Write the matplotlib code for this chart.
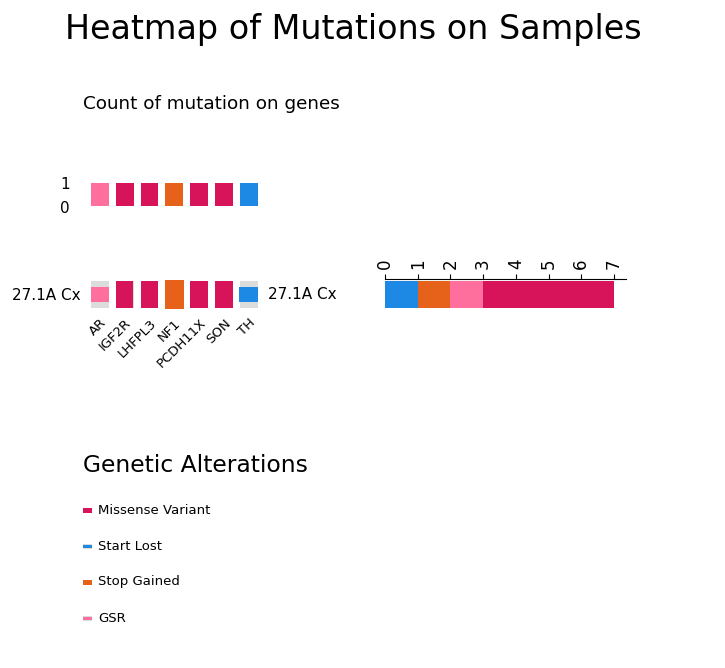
import matplotlib
matplotlib.use("Agg")
import matplotlib.pyplot as plt
from matplotlib.patches import Rectangle

# data
sample = "27.1A Cx"
genes = ["AR", "IGF2R", "LHFPL3", "NF1", "PCDH11X", "SON", "TH"]
gene_alt = ["GSR", "Missense Variant", "Missense Variant", "Stop Gained",
            "Missense Variant", "Missense Variant", "Start Lost"]
gene_counts = [1, 1, 1, 1, 1, 1, 1]
stack_order = ["Start Lost", "Stop Gained", "GSR", "Missense Variant"]
stack_counts = [1, 1, 1, 4]
legend_order = ["Missense Variant", "Start Lost", "Stop Gained", "GSR"]

colors = {
    "Missense Variant": "#d7145a",
    "Start Lost": "#1e88e5",
    "Stop Gained": "#e6621a",
    "GSR": "#ff6f9e",
}
bg_gray = "#dcdcdc"
# cell shapes: (width, height) as fraction of a cell
shapes = {
    "Missense Variant": (0.70, 1.0),
    "Stop Gained": (0.78, 1.04),
    "Start Lost": (0.76, 0.56),
    "GSR": (0.76, 0.56),
}

W, H = 725, 668
fig = plt.figure(figsize=(W / 100, H / 100), dpi=100)


def fx(px):
    return px / W


def fy(py):
    return 1 - py / H


fig.text(0.488, fy(29), "Heatmap of Mutations on Samples", ha="center", va="center", fontsize=24)
fig.text(fx(83), fy(104), "Count of mutation on genes", ha="left", va="center", fontsize=13.2)

# top bar annotation
hm_left, hm_right = 87.6, 261.0
ax_top = fig.add_axes([fx(hm_left), fy(207), fx(hm_right - hm_left), (207 - 183) / H])
x = list(range(len(genes)))
ax_top.bar(x, gene_counts, width=0.72, color=[colors[a] for a in gene_alt])
ax_top.set_xlim(-0.5, len(genes) - 0.5)
ax_top.set_ylim(0, 1)
ax_top.set_yticks([-0.05, 1])
ax_top.set_yticklabels(["0", "1"], fontsize=11)
ax_top.tick_params(axis="y", length=0, pad=13)
ax_top.set_xticks([])
for s in ax_top.spines.values():
    s.set_visible(False)

# main oncoprint
ax_hm = fig.add_axes([fx(hm_left), fy(308), fx(hm_right - hm_left), (308 - 281) / H])
ax_hm.set_xlim(-0.5, len(genes) - 0.5)
ax_hm.set_ylim(0, 1)
for i, alt in enumerate(gene_alt):
    ax_hm.add_patch(Rectangle((i - 0.36, 0.0), 0.72, 1.0, color=bg_gray, lw=0))
    w, h = shapes[alt]
    ax_hm.add_patch(Rectangle((i - w / 2, 0.5 - h / 2), w, h, color=colors[alt], lw=0, clip_on=False))
ax_hm.set_yticks([0.5])
ax_hm.set_yticklabels([sample], fontsize=11)
ax_hm.tick_params(axis="y", length=0, pad=5)
ax_hm.set_xticks(x)
ax_hm.set_xticklabels(genes, rotation=45, ha="right", rotation_mode="anchor", fontsize=9.5)
ax_hm.tick_params(axis="x", length=0, pad=6)
for s in ax_hm.spines.values():
    s.set_visible(False)
fig.text(fx(268), fy(294.5), sample, ha="left", va="center", fontsize=11)

# right stacked bar annotation
ax_r = fig.add_axes([fx(385), fy(308), fx(626 - 385), (308 - 279) / H])
left = 0
for alt, c in zip(stack_order, stack_counts):
    ax_r.barh(0, c, left=left, height=1.0, color=colors[alt], align="edge")
    left += c
ax_r.set_xlim(0, 7.37)
ax_r.set_ylim(0, 1.07)
ax_r.xaxis.set_ticks_position("top")
ax_r.set_xticks(range(8))
ax_r.set_xticklabels([str(v) for v in range(8)], rotation=90, fontsize=12)
ax_r.set_yticks([])
for k in ["bottom", "left", "right"]:
    ax_r.spines[k].set_visible(False)

# legend
fig.text(fx(83), fy(466), "Genetic Alterations", ha="left", va="center", fontsize=16.8)
for j, alt in enumerate(legend_order):
    yc = 510 + 36 * j
    w, h = shapes[alt]
    if h < 1:
        fig.add_artist(Rectangle((fx(83), fy(yc + 2.5)), fx(9), 5 / H, color=bg_gray, lw=0,
                                 transform=fig.transFigure))
        fig.add_artist(Rectangle((fx(83), fy(yc + 1.5)), fx(9), 3 / H, color=colors[alt], lw=0,
                                 transform=fig.transFigure))
    else:
        fig.add_artist(Rectangle((fx(83), fy(yc + 2.5)), fx(9), 5 / H, color=colors[alt], lw=0,
                                 transform=fig.transFigure))
    fig.text(fx(98), fy(yc), alt, ha="left", va="center", fontsize=9.5)

fig.savefig("out.png", dpi=100)
